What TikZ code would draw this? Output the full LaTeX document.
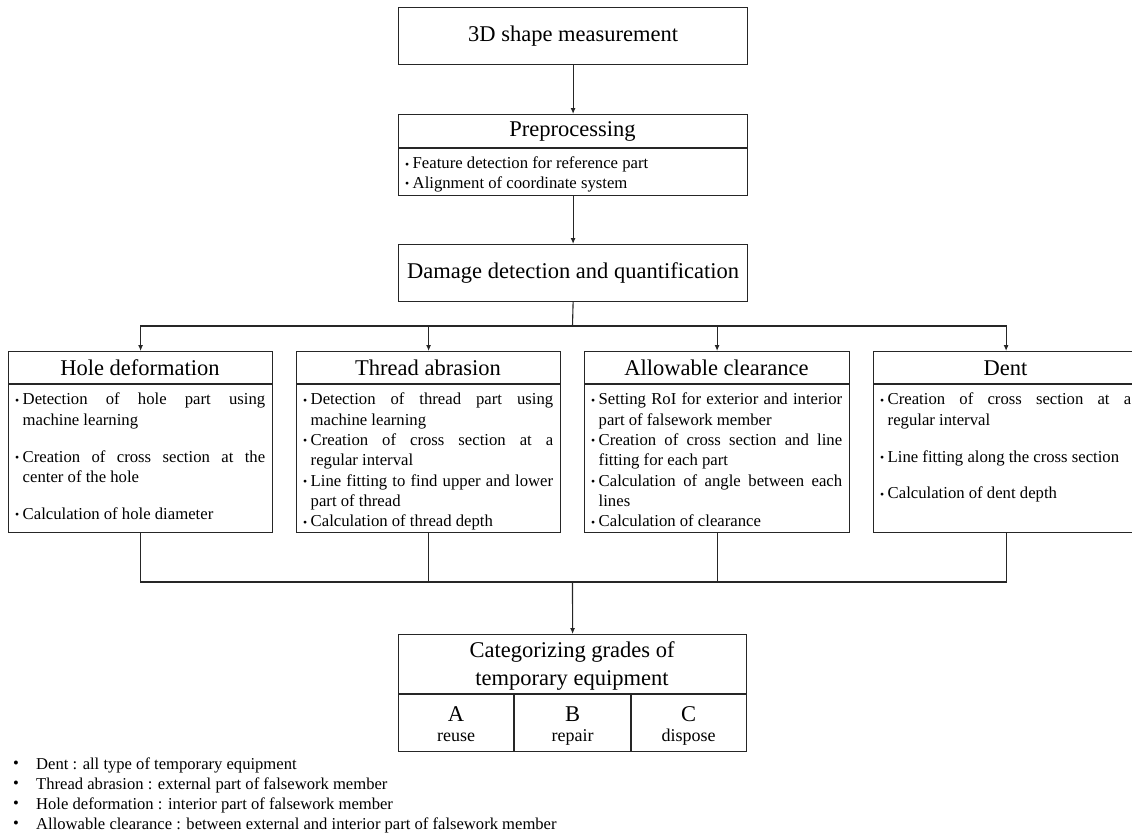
\documentclass[tikz,border=0pt]{standalone}
\usepackage{fontspec}
\setmainfont{Liberation Serif}
\usetikzlibrary{arrows.meta}
\newcommand{\bitem}[1]{\par\hangindent=7.5pt\hangafter=1\noindent\makebox[7.5pt][l]{\raisebox{0.1ex}{\scalebox{0.7}{\textbullet}}}#1}
\newcommand{\bodytext}[2]{\parbox[t]{#1}{\fontsize{16.7}{20.3}\selectfont\hyphenpenalty=10000\emergencystretch=20pt\tolerance=9999 #2}}
\begin{document}
\begin{tikzpicture}[x=1pt,y=-1pt,
  box/.style={draw=black!85, line width=1.2pt, inner sep=0pt, anchor=north west, font=\fontsize{22.5}{27}\selectfont},
  ttl/.style={inner sep=0pt, font=\fontsize{22.5}{27}\selectfont},
  body/.style={inner sep=0pt, anchor=north west},
  arr/.style={-{Latex[length=6pt,width=5pt]}, line width=1.1pt, draw=black!85},
  ln/.style={line width=1.1pt, draw=black!85}]
\useasboundingbox (0,0) rectangle (1132,836);

% top boxes
\node[box, minimum width=349pt, minimum height=57pt] (meas) at (398,7) {3D shape measurement};
\node[box, minimum width=349pt, minimum height=81pt] (pre) at (398,114) {};
\node[ttl] (pret) at (572.5,131) {Preprocessing};
\draw[ln] (398,148) -- (747,148);
\node[body] (preb) at (405,157) {\bodytext{330pt}{\fontsize{16.7}{19.5}\selectfont\bitem{Feature detection for reference part}\bitem{Alignment of coordinate system}}};
\node[box, minimum width=349pt, minimum height=57pt] (dmg) at (398,244) {Damage detection and quantification};

% four damage boxes
\node[box, minimum width=264pt, minimum height=181pt] (hole) at (8,351) {};
\node[box, minimum width=264pt, minimum height=181pt] (thr) at (296,351) {};
\node[box, minimum width=265pt, minimum height=181pt] (alw) at (584,351) {};
\node[box, minimum width=265pt, minimum height=181pt] (dent) at (873,351) {};
\node[ttl] (holet) at (140,368) {Hole deformation};
\node[ttl] (thrt) at (428,368) {Thread abrasion};
\node[ttl] (alwt) at (716.5,368) {Allowable clearance};
\node[ttl] (dentt) at (1005.5,368) {Dent};
\draw[ln] (8,384) -- (272,384);
\draw[ln] (296,384) -- (560,384);
\draw[ln] (584,384) -- (849,384);
\draw[ln] (873,384) -- (1138,384);

\node[body] (holeb) at (15,393) {\bodytext{250pt}{%
\bitem{Detection of hole part using\linebreak machine learning}\par\vspace{16.5pt}%
\bitem{Creation of cross section at the\linebreak center of the hole}\par\vspace{16.5pt}%
\bitem{Calculation of hole diameter}}};
\node[body] (thrb) at (303,393) {\bodytext{250pt}{%
\bitem{Detection of thread part using\linebreak machine learning}%
\bitem{Creation of cross section at a\linebreak regular interval}%
\bitem{Line fitting to find upper and lower\linebreak part of thread}%
\bitem{Calculation of thread depth}}};
\node[body] (alwb) at (591,393) {\bodytext{251pt}{%
\bitem{Setting RoI for exterior and interior\linebreak part of falsework member}%
\bitem{Creation of cross section and line\linebreak fitting for each part}%
\bitem{Calculation of angle between each\linebreak lines}%
\bitem{Calculation of clearance}}};
\node[body] (dentb) at (880,393) {\bodytext{251pt}{%
\bitem{Creation of cross section at a\linebreak regular interval}\par\vspace{16.5pt}%
\bitem{Line fitting along the cross section}\par\vspace{16.5pt}%
\bitem{Calculation of dent depth}}};

% categorizing box
\node[box, minimum width=348pt, minimum height=117pt] (cat) at (398,634) {};
\node[ttl, align=center, font=\fontsize{22.5}{27.5}\selectfont] (catt) at (572,666) {Categorizing grades of\\temporary equipment};
\draw[ln] (398,694) -- (746,694);
\draw[ln] (514,694) -- (514,751);
\draw[ln] (631,694) -- (631,751);
\node[ttl] (ga) at (456,714) {A};
\node[ttl] (gb) at (572.5,714) {B};
\node[ttl] (gc) at (688.5,714) {C};
\node[inner sep=0pt, font=\fontsize{18}{20}\selectfont] (ra) at (456,737) {reuse};
\node[inner sep=0pt, font=\fontsize{18}{20}\selectfont] (rb) at (572.5,737) {repair};
\node[inner sep=0pt, font=\fontsize{18}{20}\selectfont] (rc) at (688.5,737) {dispose};

% connectors
\draw[arr] (meas.south) -- (pre.north);
\draw[arr] (pre.south) -- (dmg.north);
\coordinate (j1) at (572.5,326);
\coordinate (j2) at (572.5,582);
\draw[ln] (dmg.south) -- (j1);
\draw[arr] (j1) -| (hole.north);
\draw[arr] (j1) -| (thr.north);
\draw[arr] (j1) -| (alw.north);
\draw[arr] (j1) -| (dent.north);
\draw[ln] (hole.south) |- (j2);
\draw[ln] (thr.south) |- (j2);
\draw[ln] (alw.south) |- (j2);
\draw[ln] (dent.south) |- (j2);
\draw[arr] (j2) -- (cat.north);

% legend
\begin{scope}[every node/.style={inner sep=0pt, anchor=west, font=\fontsize{16.6}{19}\selectfont}]
\node (l1) at (36,765) {Dent : all type of temporary equipment};
\node (l2) at (36,785) {Thread abrasion : external part of falsework member};
\node (l3) at (36,805) {Hole deformation : interior part of falsework member};
\node (l4) at (36,825) {Allowable clearance : between external and interior part of falsework member};
\node (b1) at (13,765) {\textbullet};
\node (b2) at (13,785) {\textbullet};
\node (b3) at (13,805) {\textbullet};
\node (b4) at (13,825) {\textbullet};
\end{scope}
\end{tikzpicture}
\end{document}
